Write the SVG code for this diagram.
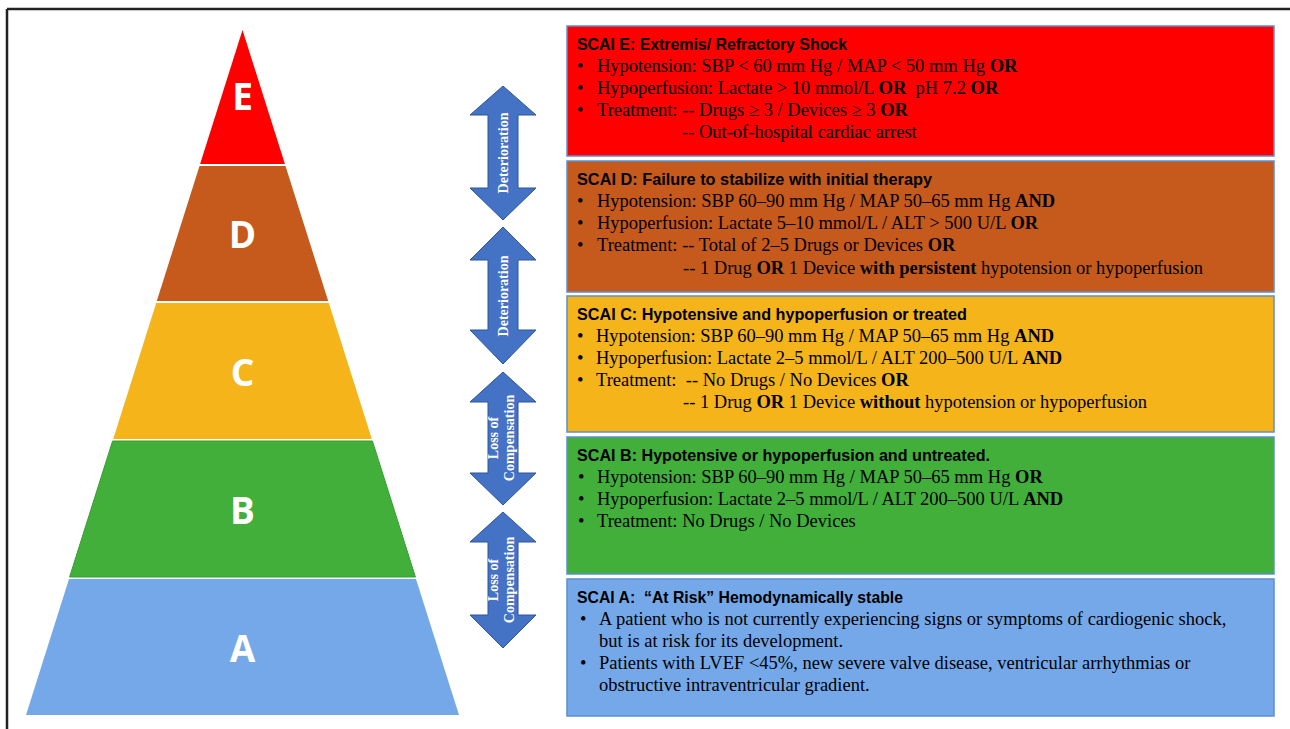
<svg xmlns="http://www.w3.org/2000/svg" width="1290" height="729" viewBox="0 0 1290 729">
<style>
.lvl{font-family:"Open Sans","Liberation Sans",sans-serif;font-weight:700;font-size:37px;fill:#fff;text-anchor:middle}
.ttl{font-family:"Liberation Sans",Arial,sans-serif;font-weight:700;font-size:16.5px;fill:#000}
.bd{font-family:"Liberation Serif","Times New Roman",serif;font-size:18.5px;fill:#000}
.b{font-weight:700}
.arr{fill:#4472c4;stroke:#2f5597;stroke-width:1}
.at{font-family:"Liberation Serif","Times New Roman",serif;font-weight:700;font-size:14px;fill:#fff;text-anchor:middle}
.box{stroke:#5b8fd0;stroke-width:1.5}
</style>
<rect width="1290" height="729" fill="#fff"/>
<g id="frame" stroke="#222" stroke-width="2.5" fill="none">
<line x1="7" y1="9" x2="1290" y2="9"/>
<line x1="7" y1="9" x2="7" y2="729"/>
</g>
<g id="pyramid">
<g id="lvl-E"><polygon points="242.5,30 284.9,164 200.1,164" fill="#fe0000"/><text class="lvl" x="242.5" y="110">E</text></g>
<g id="lvl-D"><polygon points="199.5,166 285.5,166 328.2,301 156.8,301" fill="#c55a1c"/><text class="lvl" x="242.5" y="248">D</text></g>
<g id="lvl-C"><polygon points="156.2,303 328.8,303 371.8,439 113.2,439" fill="#f4b41a"/><text class="lvl" x="242.5" y="386">C</text></g>
<g id="lvl-B"><polygon points="112.6,441 372.4,441 415.4,577 69.6,577" fill="#41af3a" stroke="#34a02e" stroke-width="1"/><text class="lvl" x="242.5" y="524">B</text></g>
<g id="lvl-A"><polygon points="69,579 416,579 459,715 26,715" fill="#75a8e8"/><text class="lvl" x="242.5" y="662">A</text></g>
</g>
<g id="connectors">
<g id="arrow1"><polygon class="arr" points="503,86 536,115 518,115 518,188 536,188 503,220 470,188 488,188 488,115 470,115"/><text class="at" transform="translate(508,153) rotate(-90)">Deterioration</text></g>
<g id="arrow2"><polygon class="arr" points="503,227 536,260 518,260 518,330 536,330 503,364 470,330 488,330 488,260 470,260"/><text class="at" transform="translate(508,296) rotate(-90)">Deterioration</text></g>
<g id="arrow3"><polygon class="arr" points="503,372 536,402 518,402 518,473 536,473 503,505 470,473 488,473 488,402 470,402"/><text class="at" transform="translate(498,438) rotate(-90)">Loss of</text><text class="at" transform="translate(514,438) rotate(-90)">Compensation</text></g>
<g id="arrow4"><polygon class="arr" points="503,512 536,542 518,542 518,615 536,615 503,648 470,615 488,615 488,542 470,542"/><text class="at" transform="translate(498,580) rotate(-90)">Loss of</text><text class="at" transform="translate(514,580) rotate(-90)">Compensation</text></g>
</g>
<g id="box-E">
<rect class="box" x="567" y="26" width="707" height="130" fill="#fe0000"/>
<text class="ttl" x="577" y="50" textLength="270" lengthAdjust="spacingAndGlyphs">SCAI E: Extremis/ Refractory Shock</text>
<text class="bd" x="577" y="72">•</text><text class="bd" x="597" y="72">Hypotension: SBP &lt; 60 mm Hg / MAP &lt; 50 mm Hg <tspan class="b">OR</tspan></text>
<text class="bd" x="577" y="94">•</text><text class="bd" x="597" y="94">Hypoperfusion: Lactate &gt; 10 mmol/L <tspan class="b">OR</tspan>&#160; pH 7.2 <tspan class="b">OR</tspan></text>
<text class="bd" x="577" y="116">•</text><text class="bd" x="597" y="116">Treatment: -- Drugs ≥ 3 / Devices ≥ 3 <tspan class="b">OR</tspan></text>
<text class="bd" x="682" y="138">-- Out-of-hospital cardiac arrest</text>
</g>
<g id="box-D">
<rect class="box" x="567" y="161" width="707" height="131" fill="#c55a1c"/>
<text class="ttl" x="577" y="185" textLength="355" lengthAdjust="spacingAndGlyphs">SCAI D: Failure to stabilize with initial therapy</text>
<text class="bd" x="577" y="207">•</text><text class="bd" x="597" y="207">Hypotension: SBP 60–90 mm Hg / MAP 50–65 mm Hg <tspan class="b">AND</tspan></text>
<text class="bd" x="577" y="229">•</text><text class="bd" x="597" y="229">Hypoperfusion: Lactate 5–10 mmol/L / ALT &gt; 500 U/L <tspan class="b">OR</tspan></text>
<text class="bd" x="577" y="251">•</text><text class="bd" x="597" y="251">Treatment: -- Total of 2–5 Drugs or Devices <tspan class="b">OR</tspan></text>
<text class="bd" x="683" y="274">-- 1 Drug <tspan class="b">OR</tspan> 1 Device <tspan class="b">with persistent</tspan> hypotension or hypoperfusion</text>
</g>
<g id="box-C">
<rect class="box" x="567" y="296" width="707" height="136" fill="#f4b41a"/>
<text class="ttl" x="577" y="320" textLength="390" lengthAdjust="spacingAndGlyphs">SCAI C: Hypotensive and hypoperfusion or treated</text>
<text class="bd" x="577" y="342">•</text><text class="bd" x="596" y="342">Hypotension: SBP 60–90 mm Hg / MAP 50–65 mm Hg <tspan class="b">AND</tspan></text>
<text class="bd" x="577" y="364">•</text><text class="bd" x="596" y="364">Hypoperfusion: Lactate 2–5 mmol/L / ALT 200–500 U/L <tspan class="b">AND</tspan></text>
<text class="bd" x="577" y="386">•</text><text class="bd" x="596" y="386">Treatment: &#160;-- No Drugs / No Devices <tspan class="b">OR</tspan></text>
<text class="bd" x="683" y="408">-- 1 Drug <tspan class="b">OR</tspan> 1 Device <tspan class="b">without</tspan> hypotension or hypoperfusion</text>
</g>
<g id="box-B">
<rect class="box" x="567" y="437" width="707" height="137" fill="#41af3a"/>
<text class="ttl" x="577" y="461" textLength="413" lengthAdjust="spacingAndGlyphs">SCAI B: Hypotensive or hypoperfusion and untreated.</text>
<text class="bd" x="578" y="483">•</text><text class="bd" x="597" y="483">Hypotension: SBP 60–90 mm Hg / MAP 50–65 mm Hg <tspan class="b">OR</tspan></text>
<text class="bd" x="578" y="505">•</text><text class="bd" x="597" y="505">Hypoperfusion: Lactate 2–5 mmol/L / ALT 200–500 U/L <tspan class="b">AND</tspan></text>
<text class="bd" x="578" y="527">•</text><text class="bd" x="597" y="527">Treatment: No Drugs / No Devices</text>
</g>
<g id="box-A">
<rect class="box" x="567" y="579" width="707" height="137" fill="#75a8e8"/>
<text class="ttl" x="577" y="603" textLength="326" lengthAdjust="spacingAndGlyphs">SCAI A: &#160;“At Risk” Hemodynamically stable</text>
<text class="bd" x="580" y="625">•</text><text class="bd" x="599" y="625">A patient who is not currently experiencing signs or symptoms of cardiogenic shock,</text>
<text class="bd" x="599" y="647">but is at risk for its development.</text>
<text class="bd" x="580" y="669">•</text><text class="bd" x="599" y="669">Patients with LVEF &lt;45%, new severe valve disease, ventricular arrhythmias or</text>
<text class="bd" x="599" y="691">obstructive intraventricular gradient.</text>
</g>
</svg>
